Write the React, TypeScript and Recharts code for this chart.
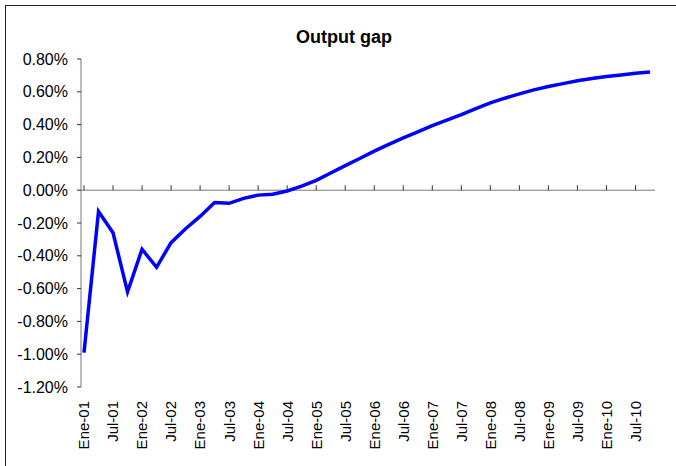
import { LineChart, Line, XAxis, YAxis, ReferenceLine } from "recharts";

const QUARTERS = ["Ene", "Abr", "Jul", "Oct"];
const YEARS = ["01", "02", "03", "04", "05", "06", "07", "08", "09", "10"];
const PERIODS = YEARS.flatMap((y) => QUARTERS.map((q) => `${q}-${y}`));

// output gap, % (quarterly)
const OUTPUT_GAP = [
  -0.99, -0.13, -0.26, -0.62, -0.36, -0.47, -0.32, -0.235, -0.16, -0.075,
  -0.08, -0.05, -0.03, -0.025, -0.005, 0.025, 0.06, 0.105, 0.15, 0.193,
  0.238, 0.279, 0.319, 0.356, 0.394, 0.427, 0.461, 0.498, 0.532, 0.561,
  0.587, 0.612, 0.632, 0.65, 0.667, 0.681, 0.693, 0.703, 0.713, 0.721,
];

const Y_TICKS = [-1.2, -1.0, -0.8, -0.6, -0.4, -0.2, 0, 0.2, 0.4, 0.6, 0.8];
const TICK_LABELS = PERIODS.filter((_, i) => i % 2 === 0);

const data = PERIODS.map((period, i) => ({ period, gap: OUTPUT_GAP[i] }));

const FONT = "'Liberation Sans', Arial, sans-serif";

function RotatedTick({ x, y, payload }: any) {
  return (
    <text
      x={x}
      y={y}
      dy="0.36em"
      textAnchor="end"
      transform={`rotate(-90, ${x}, ${y})`}
      fontSize={15}
      fontFamily={FONT}
      fill="#000"
    >
      {payload.value}
    </text>
  );
}

export default function App() {
  return (
    <div
      style={{
        position: "absolute",
        left: 0,
        top: 0,
        width: 676,
        height: 466,
        background: "#fff",
        overflow: "hidden",
      }}
    >
      <div
        style={{
          position: "absolute",
          left: 5,
          top: 5,
          right: -2,
          bottom: -2,
          borderTop: "1px solid #222",
          borderLeft: "1px solid #222",
        }}
      />
      <div
        style={{
          position: "absolute",
          left: 0,
          width: 688,
          top: 27,
          textAlign: "center",
          fontFamily: FONT,
          fontWeight: "bold",
          fontSize: 18,
        }}
      >
        Output gap
      </div>
      <LineChart
        width={676}
        height={466}
        data={data}
        margin={{ top: 59, right: 21, bottom: 5, left: 0 }}
        style={{ position: "absolute", left: 0, top: 0 }}
      >
        <XAxis
          dataKey="period"
          interval={1}
          axisLine={false}
          tickLine={false}
          tickSize={0}
          tickMargin={14}
          height={74}
          padding={{ left: 3, right: 5 }}
          tick={<RotatedTick />}
        />
        <YAxis
          domain={[-1.2, 0.8]}
          ticks={Y_TICKS}
          width={81}
          tickSize={4}
          tickMargin={9}
          axisLine={{ stroke: "#777" }}
          tickLine={{ stroke: "#333" }}
          tick={{ fontSize: 16, fill: "#000", fontFamily: FONT }}
          tickFormatter={(v: number) => `${v.toFixed(2)}%`}
        />
        <ReferenceLine y={0} stroke="#777" />
        {TICK_LABELS.map((p) => (
          <ReferenceLine
            key={p}
            segment={[
              { x: p, y: 0 },
              { x: p, y: 0.03 },
            ]}
            stroke="#333"
          />
        ))}
        <Line
          type="linear"
          dataKey="gap"
          stroke="#0000ff"
          strokeWidth={3.5}
          dot={false}
          isAnimationActive={false}
        />
      </LineChart>
    </div>
  );
}
